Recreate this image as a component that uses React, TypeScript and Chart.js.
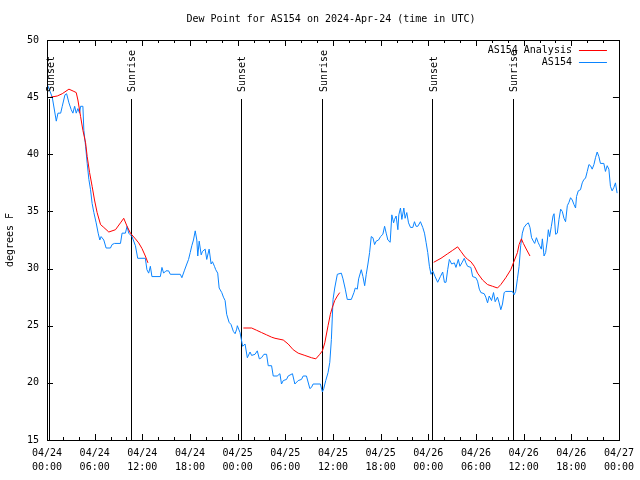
import React, { useEffect, useRef } from "react";
import { Chart, registerables } from "chart.js";

Chart.register(...registerables);

const FONT = "'DejaVu Sans Mono', monospace";

const titleText = "Dew Point for AS154 on 2024-Apr-24 (time in UTC)";
const yTitle = "degrees F";

// x tick labels (every 6 hours from 04/24 00:00)
const xTickDates = ["04/24", "04/24", "04/24", "04/24", "04/25", "04/25", "04/25", "04/25", "04/26", "04/26", "04/26", "04/26", "04/27"];
const xTickTimes = ["00:00", "06:00", "12:00", "18:00", "00:00", "06:00", "12:00", "18:00", "00:00", "06:00", "12:00", "18:00", "00:00"];

// sunrise / sunset markers (hours since 04/24 00:00 UTC)
const sunHours = [0.25, 10.54, 24.38, 34.67, 48.47, 58.63];
const sunLabels = ["Sunset", "Sunrise", "Sunset", "Sunrise", "Sunset", "Sunrise"];
const sunLabelAt = 45.45;

// AS154 observations (hours since 04/24 00:00 UTC, degrees F)
const obsHours = [
  0.04, 0.66, 1.17, 1.38, 1.72, 1.92, 2.26, 2.47, 2.76, 3.05, 3.26, 3.48, 3.68, 3.89, 4.10, 4.23, 4.52, 4.64, 4.86, 5.06,
  5.27, 5.48, 5.68, 5.90, 6.19, 6.44, 6.65, 6.81, 7.15, 7.44, 7.99, 8.19, 8.49, 9.25, 9.45, 9.87, 10.08, 10.29, 10.70, 11.13,
  11.42, 12.38, 12.58, 12.80, 13.01, 13.21, 14.27, 14.47, 14.68, 14.97, 15.31, 15.52, 16.78, 16.98, 17.28, 17.60, 17.82, 18.03, 18.23, 18.44,
  18.66, 18.86, 18.98, 19.16, 19.41, 19.57, 19.91, 20.11, 20.41, 20.66, 20.83, 21.08, 21.24, 21.49, 21.67, 22.00, 22.21, 22.42, 22.62, 22.92,
  23.17, 23.46, 23.68, 23.88, 23.96, 24.30, 24.63, 24.93, 25.22, 25.56, 25.76, 26.19, 26.47, 26.73, 27.01, 27.31, 27.64, 27.85, 28.27, 28.48,
  28.98, 29.32, 29.52, 29.74, 30.15, 30.36, 30.90, 31.20, 31.62, 32.03, 32.25, 32.66, 33.09, 33.29, 33.50, 34.42, 34.67, 34.84, 35.09, 35.38,
  35.60, 35.80, 36.01, 36.22, 36.55, 37.05, 37.26, 37.55, 37.80, 38.31, 38.64, 38.81, 39.06, 39.23, 39.56, 39.77, 39.99, 40.19, 40.40, 40.61,
  40.82, 41.03, 41.24, 41.44, 41.74, 41.99, 42.28, 42.50, 42.70, 42.91, 43.20, 43.41, 43.63, 43.75, 43.95, 44.17, 44.29, 44.50, 44.67, 44.92,
  45.08, 45.29, 45.51, 45.76, 46.05, 46.26, 46.46, 46.68, 47.01, 47.30, 47.52, 47.72, 47.93, 48.14, 48.34, 48.56, 48.85, 49.18, 49.52, 49.81,
  50.03, 50.23, 50.44, 50.65, 50.94, 51.28, 51.48, 51.78, 51.98, 52.23, 52.53, 52.73, 52.95, 53.36, 53.58, 53.99, 54.20, 54.42, 54.62, 55.04,
  55.24, 55.46, 55.67, 55.96, 56.21, 56.42, 56.71, 56.92, 57.13, 57.34, 57.55, 57.75, 58.59, 58.80, 59.00, 59.22, 59.43, 59.63, 59.84, 60.05,
  60.38, 60.60, 60.80, 61.00, 61.22, 61.39, 61.61, 61.82, 62.02, 62.23, 62.36, 62.57, 62.77, 62.99, 63.11, 63.27, 63.49, 63.70, 63.83, 64.03,
  64.24, 64.45, 64.66, 64.87, 65.08, 65.28, 65.50, 65.71, 65.91, 66.12, 66.34, 66.54, 66.66, 66.88, 67.16, 67.38, 67.59, 67.79, 68.01, 68.22,
  68.42, 68.63, 68.85, 69.05, 69.26, 69.47, 69.67, 70.10, 70.30, 70.52, 70.73, 70.93, 71.14, 71.36, 71.56, 71.77,
];
const obsValues = [
  46.1, 45.0, 42.9, 43.6, 43.6, 44.2, 45.2, 45.3, 44.5, 43.9, 43.6, 44.2, 43.6, 44.0, 43.6, 44.2, 44.2, 42.1, 40.7, 39.2,
  37.8, 36.9, 35.7, 34.9, 34.0, 33.1, 32.5, 32.8, 32.5, 31.8, 31.8, 32.1, 32.2, 32.2, 33.1, 33.1, 33.7, 33.1, 32.8, 32.0,
  30.9, 30.9, 29.9, 29.6, 30.2, 29.3, 29.3, 30.1, 29.6, 29.8, 29.8, 29.5, 29.5, 29.2, 29.8, 30.4, 30.8, 31.4, 32.0, 32.5,
  33.3, 32.5, 31.1, 32.4, 31.2, 31.5, 31.7, 30.8, 31.7, 30.4, 30.6, 30.2, 29.9, 29.6, 28.3, 27.9, 27.5, 27.2, 26.0, 25.3,
  25.1, 24.5, 24.3, 24.7, 25.0, 24.4, 23.2, 23.4, 22.2, 22.7, 22.4, 22.5, 22.8, 22.1, 22.2, 22.5, 22.5, 21.5, 21.5, 20.6,
  20.6, 20.8, 19.9, 20.2, 20.3, 20.6, 20.8, 19.9, 20.2, 20.3, 20.6, 20.6, 19.5, 19.6, 19.9, 19.9, 19.2, 19.5, 20.2, 20.9,
  21.8, 23.8, 27.3, 28.3, 29.5, 29.6, 29.1, 28.2, 27.3, 27.3, 27.9, 28.3, 28.2, 29.1, 29.9, 29.3, 28.5, 29.5, 30.4, 31.4,
  32.8, 32.7, 32.1, 32.4, 32.5, 32.8, 33.0, 33.7, 33.1, 32.5, 32.3, 34.7, 34.0, 34.3, 34.6, 33.4, 34.7, 35.3, 34.3, 35.3,
  34.4, 34.9, 34.0, 33.6, 33.6, 34.1, 33.7, 33.7, 34.1, 33.6, 33.1, 32.3, 31.4, 30.2, 29.5, 29.8, 29.3, 28.8, 29.3, 29.7,
  28.8, 28.8, 29.9, 30.8, 30.4, 30.5, 30.1, 30.8, 30.2, 30.5, 30.9, 30.5, 30.2, 30.1, 29.3, 29.2, 28.9, 28.2, 27.9, 27.8,
  27.5, 27.0, 27.6, 27.2, 27.9, 27.1, 27.5, 27.0, 26.4, 26.9, 27.9, 28.0, 28.0, 27.7, 28.0, 29.1, 30.2, 32.0, 33.1, 33.6,
  33.9, 34.0, 33.6, 32.7, 32.4, 32.2, 32.7, 32.3, 32.0, 31.7, 32.6, 31.1, 31.4, 32.5, 33.4, 32.8, 33.7, 34.6, 34.8, 33.0,
  33.1, 34.3, 35.2, 35.0, 34.4, 34.1, 35.5, 35.8, 36.2, 36.0, 35.6, 35.3, 36.3, 36.8, 36.9, 37.5, 37.8, 37.9, 38.5, 39.1,
  39.0, 38.7, 39.1, 39.7, 40.2, 39.8, 39.2, 39.2, 38.5, 39.0, 38.7, 37.2, 36.8, 37.1, 37.5, 36.6,
];

// AS154 Analysis (null values break the line)
const analysisHours = [
  0.46, 1.29, 1.92, 2.76, 3.39, 3.68, 3.89, 4.23, 4.52, 4.86, 5.06, 5.36, 5.68, 5.98, 6.31, 6.74, 7.15, 7.78, 8.62, 9.25,
  9.66, 10.08, 10.50, 11.13, 11.54, 11.96, 12.38, 12.71,
  18.0,
  24.72, 25.76, 26.39, 27.01, 27.64, 28.27, 28.70, 29.74, 30.36, 30.99, 31.62, 32.46, 33.29, 33.84, 34.34, 34.67, 34.97, 35.38, 35.67, 35.92,
  36.22, 36.55, 36.85,
  42.0,
  48.68, 49.60, 50.44, 51.07, 51.69, 52.11, 52.53, 52.95, 53.36, 53.79, 54.20, 54.83, 55.46, 56.09, 56.71, 57.13, 57.75, 58.38, 58.80, 59.22,
  59.43, 59.72, 59.97, 60.26, 60.80,
];
const analysisValues = [
  45.0, 45.1, 45.3, 45.7, 45.5, 45.4, 44.75, 43.3, 42.1, 41.0, 39.8, 38.4, 37.2, 36.0, 34.9, 33.85, 33.6, 33.2, 33.4, 34.0,
  34.4, 33.7, 33.1, 32.6, 32.25, 31.75, 31.1, 30.5,
  null,
  24.8, 24.8, 24.6, 24.4, 24.2, 24.0, 23.9, 23.75, 23.4, 22.9, 22.6, 22.4, 22.2, 22.1, 22.5, 22.8, 23.5, 25.0, 26.0, 26.6,
  27.2, 27.6, 27.9,
  null,
  30.55, 30.9, 31.3, 31.6, 31.9, 31.5, 31.1, 30.8, 30.6, 30.2, 29.6, 29.0, 28.6, 28.45, 28.3, 28.6, 29.2, 29.9, 30.65, 31.4,
  32.1, 32.6, 32.2, 31.8, 31.1,
];

const RED = "#ff0000";
const BLUE = "#0a84ff";

const decorPlugin = {
  id: "gnuplotDecor",
  beforeDatasetsDraw(chart: any) {
    const { ctx, chartArea, scales } = chart;
    const xs = scales.x;
    const ys = scales.y;
    ctx.save();
    ctx.strokeStyle = "#000";
    ctx.lineWidth = 1;
    const topY = Math.round(ys.getPixelForValue(sunLabelAt)) + 7;
    sunHours.forEach((h) => {
      const px = Math.round(xs.getPixelForValue(h)) + 0.5;
      ctx.beginPath();
      ctx.moveTo(px, chartArea.bottom);
      ctx.lineTo(px, topY);
      ctx.stroke();
    });
    ctx.restore();
  },
  afterDraw(chart: any) {
    const { ctx, chartArea, scales } = chart;
    const xs = scales.x;
    const ys = scales.y;
    const L = chartArea.left, R = chartArea.right, T = chartArea.top, B = chartArea.bottom;
    ctx.save();
    // title, centred over the plot area
    ctx.fillStyle = "#000";
    ctx.font = `10px ${FONT}`;
    ctx.textAlign = "center";
    ctx.textBaseline = "middle";
    ctx.fillText(titleText, (L + R) / 2 - 2, 19);

    ctx.strokeStyle = "#000";
    ctx.lineWidth = 1;
    ctx.strokeRect(Math.round(L) + 0.5, Math.round(T) + 0.5, Math.round(R - L), Math.round(B - T));
    // x ticks (every 2 hours, longer every 6)
    for (let h = 0; h <= 72; h += 2) {
      const px = Math.round(xs.getPixelForValue(h)) + 0.5;
      const len = h % 6 === 0 ? 6 : 3;
      ctx.beginPath();
      ctx.moveTo(px, B);
      ctx.lineTo(px, B - len);
      ctx.moveTo(px, T);
      ctx.lineTo(px, T + len);
      ctx.stroke();
    }
    for (let v = 15; v <= 50; v += 5) {
      const py = Math.round(ys.getPixelForValue(v)) + 0.5;
      ctx.beginPath();
      ctx.moveTo(L, py);
      ctx.lineTo(L + 6, py);
      ctx.moveTo(R, py);
      ctx.lineTo(R - 6, py);
      ctx.stroke();
    }
    // sun labels
    const ly = Math.round(ys.getPixelForValue(sunLabelAt));
    sunHours.forEach((h, i) => {
      const px = xs.getPixelForValue(h) + 2;
      ctx.save();
      ctx.translate(px, ly);
      ctx.rotate(-Math.PI / 2);
      ctx.textAlign = "left";
      ctx.textBaseline = "middle";
      ctx.fillText(sunLabels[i], 0, 0);
      ctx.restore();
    });
    // legend
    chart.data.datasets.forEach((ds: any, i: number) => {
      const y = T + 10 + i * 12;
      ctx.textAlign = "right";
      ctx.textBaseline = "middle";
      ctx.fillStyle = "#000";
      ctx.fillText(ds.label, R - 47, y);
      ctx.strokeStyle = ds.borderColor;
      ctx.beginPath();
      ctx.moveTo(R - 40, Math.round(y) + 0.5);
      ctx.lineTo(R - 12, Math.round(y) + 0.5);
      ctx.stroke();
    });
    ctx.restore();
  },
};

export default function App() {
  const ref = useRef<HTMLCanvasElement | null>(null);
  useEffect(() => {
    if (!ref.current) return;
    const font = { family: FONT, size: 10, weight: "normal" as const };
    const chart = new Chart(ref.current, {
      type: "line",
      data: {
        datasets: [
          {
            label: "AS154 Analysis",
            data: analysisHours.map((h, i) => ({ x: h, y: analysisValues[i] })),
            borderColor: RED,
            borderWidth: 1,
            pointRadius: 0,
            spanGaps: false,
            tension: 0,
            fill: false,
          },
          {
            label: "AS154",
            data: obsHours.map((h, i) => ({ x: h, y: obsValues[i] })),
            borderColor: BLUE,
            borderWidth: 1,
            pointRadius: 0,
            tension: 0,
            fill: false,
          },
        ],
      },
      options: {
        responsive: false,
        animation: false,
        events: [],
        layout: { padding: { left: 0, right: 19, top: 40, bottom: 0 } },
        plugins: {
          legend: { display: false },
          tooltip: { enabled: false },
          title: { display: false, text: titleText },
        },
        scales: {
          x: {
            type: "linear",
            min: 0,
            max: 72,
            grid: { display: false, drawTicks: false },
            border: { display: false },
            ticks: {
              stepSize: 6,
              autoSkip: false,
              maxRotation: 0,
              minRotation: 0,
              color: "#000",
              font: { ...font, lineHeight: 1.4 },
              padding: 6,
              callback: (v: any) => {
                const i = Math.round(Number(v) / 6);
                return [xTickDates[i], xTickTimes[i]];
              },
            },
            afterFit: (s: any) => {
              s.height = 40;
            },
          },
          y: {
            min: 15,
            max: 50,
            grid: { display: false, drawTicks: false },
            border: { display: false },
            ticks: { stepSize: 5, color: "#000", font, padding: 8 },
            title: { display: true, text: yTitle, color: "#000", font, padding: { top: 4, bottom: 0 } },
            afterFit: (s: any) => {
              s.width = 47;
            },
          },
        },
      },
      plugins: [decorPlugin],
    });
    return () => chart.destroy();
  }, []);
  return (
    <div style={{ position: "absolute", left: 0, top: 0, width: 640, height: 480, background: "#fff" }}>
      <canvas ref={ref} width={640} height={480} />
    </div>
  );
}
